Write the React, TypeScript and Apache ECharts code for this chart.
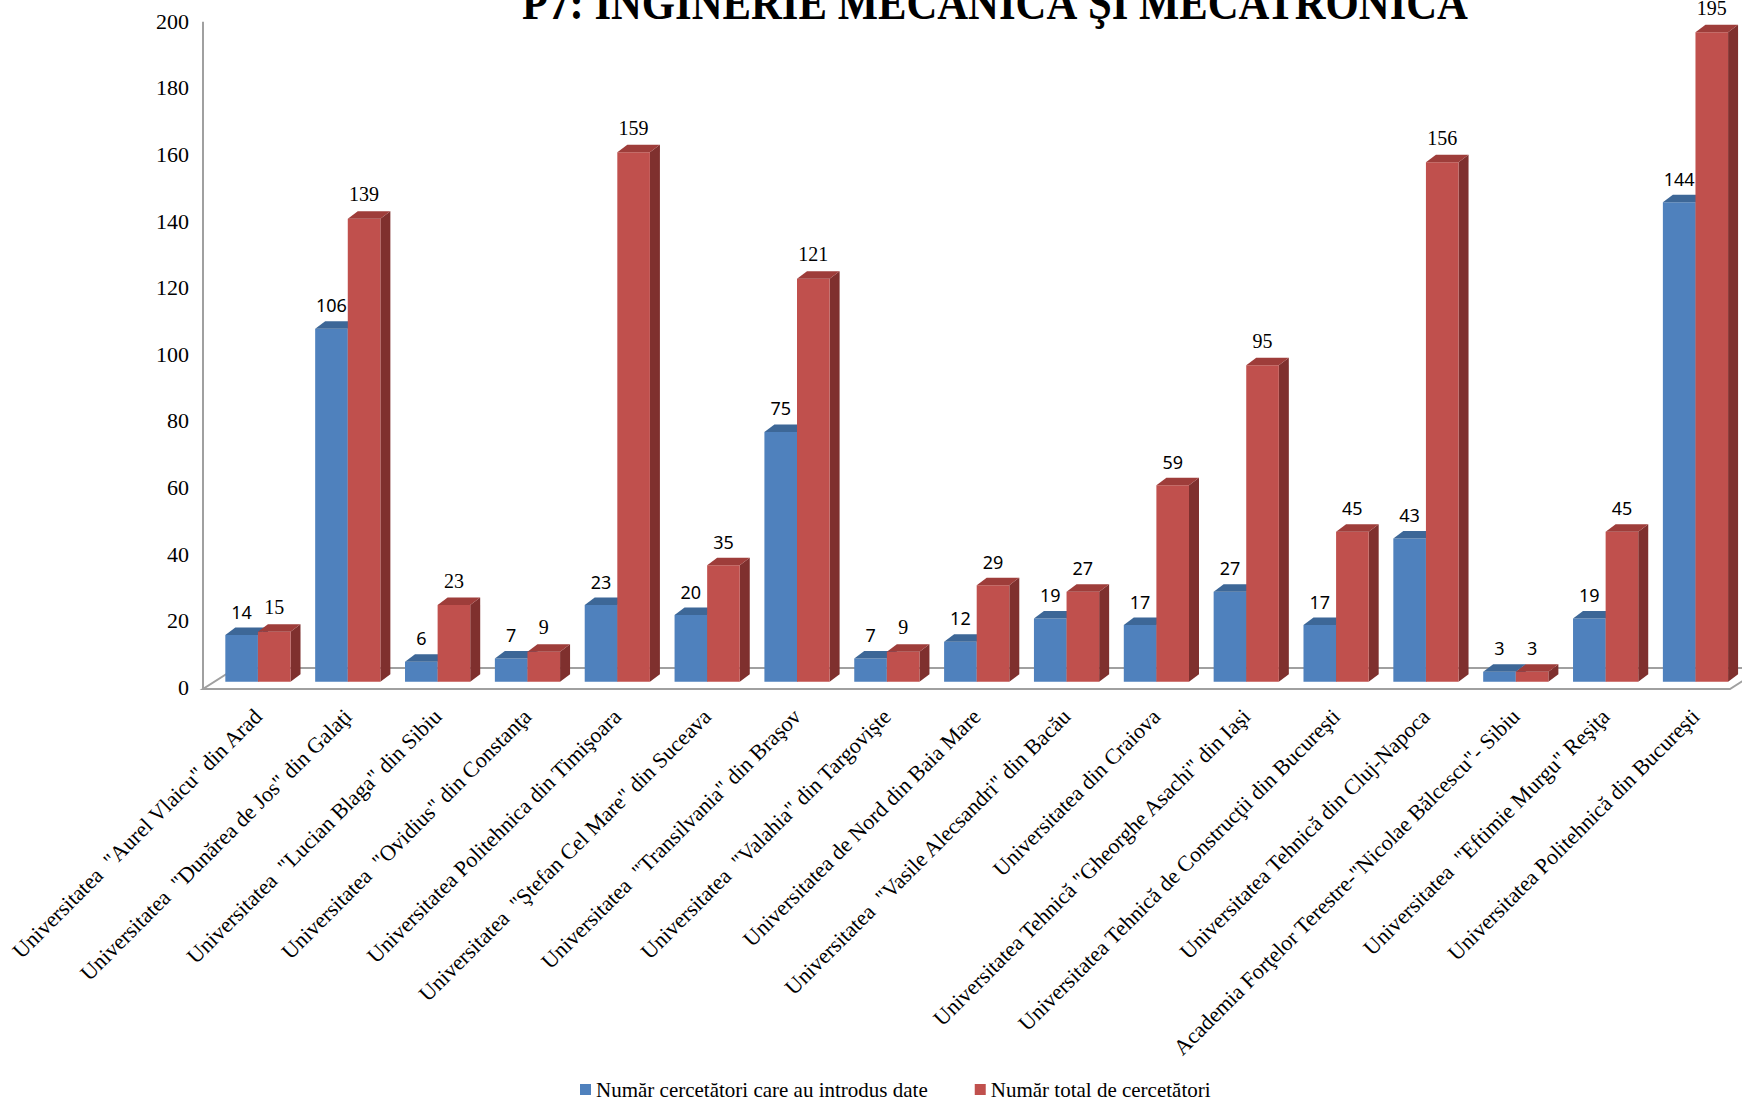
import React, { useEffect, useRef } from "react";
import * as echarts from "echarts";

const categories = [
  'Universitatea  "Aurel Vlaicu" din Arad',
  'Universitatea  "Dunărea de Jos" din Galaţi',
  'Universitatea  "Lucian Blaga" din Sibiu',
  'Universitatea  "Ovidius" din Constanţa',
  "Universitatea Politehnica din Timişoara",
  'Universitatea  "Ştefan Cel Mare" din Suceava',
  'Universitatea  "Transilvania" din Braşov',
  'Universitatea  "Valahia" din Targovişte',
  "Universitatea de Nord din Baia Mare",
  'Universitatea  "Vasile Alecsandri" din Bacău',
  "Universitatea din Craiova",
  'Universitatea Tehnică "Gheorghe Asachi" din Iaşi',
  "Universitatea Tehnică de Construcţii din Bucureşti",
  "Universitatea Tehnică din Cluj-Napoca",
  'Academia Forţelor Terestre-"Nicolae Bălcescu"- Sibiu',
  'Universitatea  "Eftimie Murgu" Reşiţa',
  "Universitatea Politehnică din Bucureşti",
];

const seriesNames = [
  "Număr cercetători care au introdus date",
  "Număr total de cercetători",
];

const introdusDate = [14, 106, 6, 7, 23, 20, 75, 7, 12, 19, 17, 27, 17, 43, 3, 19, 144];
const totalCercetatori = [15, 139, 23, 9, 159, 35, 121, 9, 29, 27, 59, 95, 45, 156, 3, 45, 195];

const yTicks = { min: 0, max: 200, interval: 20 };
const titleText = "P7: INGINERIE MECANICĂ ŞI MECATRONICĂ";

// style: which red labels use serif font (as in the original rendering)
const redSerif = [true, true, true, true, true, false, true, true, false, false, false, true, false, true, false, false, true];

// layout
const GRID_LEFT = 213;
const GRID_RIGHT = 1.6;
const GRID_TOP = 15.7;
const GRID_BOTTOM = 418.3;
const BAR_W = 32.6;
const DX = 10;
const DY = 7.5;

const SERIF = '"Liberation Serif", "Times New Roman", serif';
const SANS = '"Noto Sans", "Open Sans", sans-serif';

const palettes = [
  { front: "#4F81BD", top: "#3D6797", side: "#37608F" },
  { front: "#C0504D", top: "#9E3D3A", side: "#7F302E" },
];

function makeRender(sideIdx: number) {
  return (params: any, api: any) => {
    const idx = api.value(0);
    const val = api.value(1);
    const base = api.coord([idx, 0]);
    const top = api.coord([idx, val]);
    const x0 = sideIdx === 0 ? base[0] - BAR_W : base[0];
    const x1 = x0 + BAR_W;
    const yb = base[1];
    const yt = top[1];
    const pal = palettes[sideIdx];
    const serif = sideIdx === 1 && redSerif[idx];
    return {
      type: "group",
      children: [
        {
          type: "polygon",
          shape: { points: [[x1, yt], [x1 + DX, yt - DY], [x1 + DX, yb - DY], [x1, yb]] },
          style: { fill: pal.side },
        },
        {
          type: "rect",
          shape: { x: x0, y: yt, width: BAR_W, height: yb - yt },
          style: { fill: pal.front },
        },
        {
          type: "polygon",
          shape: { points: [[x0, yt], [x0 + DX, yt - DY], [x1 + DX, yt - DY], [x1, yt]] },
          style: { fill: pal.top },
        },
        {
          type: "text",
          z2: 100,
          style: {
            text: String(val),
            x: x0 + BAR_W / 2,
            y: yt - DY - 7,
            align: "center",
            verticalAlign: "bottom",
            fontFamily: serif ? SERIF : SANS,
            fontSize: serif ? 20 : 18,
            fill: "#000",
          },
        },
      ],
    };
  };
}

export default function App() {
  const ref = useRef<HTMLDivElement>(null);
  useEffect(() => {
    if (!ref.current) return;
    const chart = echarts.init(ref.current, null, { renderer: "svg" });
    const baseY = 1100 - GRID_BOTTOM;
    const frontY = baseY + 7.3;
    const backY = frontY - 21;
    const leftX = 203;
    const rightX = 1730;
    chart.setOption({
      animation: false,
      backgroundColor: "#fff",
      graphic: [
        {
          type: "polygon",
          z: 0,
          shape: {
            points: [
              [leftX, frontY],
              [rightX, frontY],
              [rightX + 33, backY],
              [leftX + 33, backY],
            ],
          },
          style: { fill: "#fff", stroke: "#A0A0A0", lineWidth: 2 },
        },
        {
          type: "line",
          z: 0,
          shape: { x1: leftX, y1: GRID_TOP + 6, x2: leftX, y2: frontY },
          style: { stroke: "#A0A0A0", lineWidth: 2 },
        },
        {
          type: "text",
          x: 995,
          y: 27,
          scaleX: 0.89,
          style: {
            text: titleText,
            x: 0,
            y: 0,
            align: "center",
            verticalAlign: "bottom",
            fontFamily: SERIF,
            fontWeight: "bold",
            fontSize: 48,
            fill: "#000",
          },
        },
      ],
      legend: {
        data: seriesNames,
        left: 575,
        top: 1074,
        icon: "rect",
        itemWidth: 11,
        itemHeight: 11,
        itemGap: 47,
        textStyle: { fontFamily: SERIF, fontSize: 21, color: "#000" },
      },
      grid: { left: GRID_LEFT, right: GRID_RIGHT, top: GRID_TOP, bottom: GRID_BOTTOM, containLabel: false },
      xAxis: {
        type: "category",
        data: categories,
        axisLine: { show: false },
        axisTick: { show: false },
        axisLabel: {
          interval: 0,
          rotate: 45,
          margin: 31,
          fontFamily: SERIF,
          fontSize: 22,
          color: "#000",
        },
      },
      yAxis: {
        type: "value",
        min: yTicks.min,
        max: yTicks.max,
        interval: yTicks.interval,
        axisLine: { show: false },
        axisTick: { show: false },
        splitLine: { show: false },
        axisLabel: {
          margin: 24,
          fontFamily: SERIF,
          fontSize: 22,
          color: "#000",
          verticalAlign: "top",
          lineHeight: 11,
        },
      },
      series: [
        {
          name: seriesNames[0],
          type: "custom",
          renderItem: makeRender(0),
          itemStyle: { color: palettes[0].front },
          encode: { x: 0, y: 1 },
          data: introdusDate.map((v, i) => [i, v]),
        },
        {
          name: seriesNames[1],
          type: "custom",
          renderItem: makeRender(1),
          itemStyle: { color: palettes[1].front },
          encode: { x: 0, y: 1 },
          data: totalCercetatori.map((v, i) => [i, v]),
        },
      ],
    });
    return () => chart.dispose();
  }, []);
  return <div ref={ref} style={{ width: 1742, height: 1100, position: "absolute", left: 0, top: 0 }} />;
}
